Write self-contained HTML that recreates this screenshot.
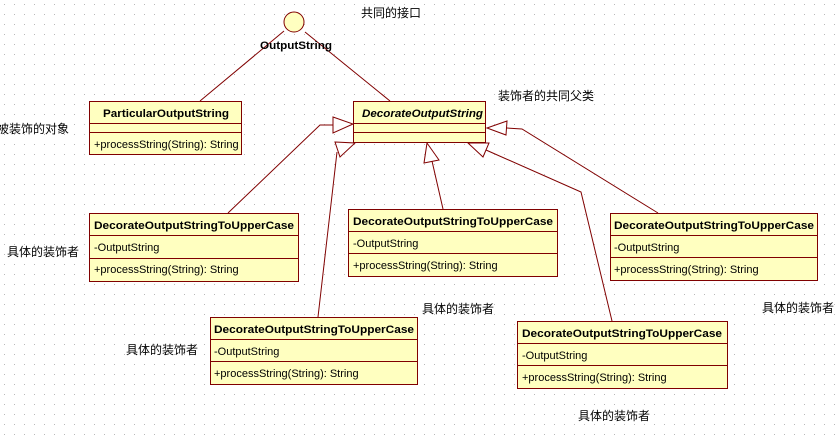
<!DOCTYPE html>
<html><head><meta charset="utf-8"><style>
html,body{margin:0;padding:0;background:#fff;}
svg{display:block;}
text{font-family:"Liberation Sans","Noto Sans CJK SC",sans-serif;font-size:11px;fill:#000;}
.b{font-weight:bold;}
.cj{font-size:12px;}
</style></head><body>
<svg width="837" height="438" xmlns="http://www.w3.org/2000/svg">
<defs><pattern id="g" width="10" height="10" patternUnits="userSpaceOnUse"><rect x="4" y="4" width="1" height="1" fill="#b8b8b8"/></pattern></defs>
<rect width="837" height="438" fill="url(#g)"/>
<g stroke="#800000" stroke-width="1" fill="none">
<line x1="284" y1="31" x2="200" y2="101"/>
<line x1="305" y1="32" x2="390" y2="101"/>
<polyline points="228,213 320,125 333,125"/>
<polygon points="333,117 353,124 333,133" fill="#fff"/>
<line x1="337" y1="152" x2="318" y2="317"/>
<polygon points="335,142 355,143 340,157" fill="#fff"/>
<line x1="432" y1="161" x2="443" y2="209"/>
<polygon points="427,143 424,163 439,160" fill="#fff"/>
<polyline points="486,150 581,192 612,321"/>
<polygon points="468,143 489,143 483,157" fill="#fff"/>
<polyline points="507,128 522,129 658,213"/>
<polygon points="487,128 507,121 506,135" fill="#fff"/>
</g>
<circle cx="294" cy="22" r="10" fill="#ffffc0" stroke="#800000"/>
<text x="260" y="49" class="b" textLength="72" lengthAdjust="spacingAndGlyphs">OutputString</text>
<text x="361" y="17" class="cj">共同的接口</text>
<text x="498" y="100" class="cj">装饰者的共同父类</text>
<text x="-3" y="133" class="cj">被装饰的对象</text>
<text x="7" y="256" class="cj">具体的装饰者</text>
<text x="422" y="313" class="cj">具体的装饰者</text>
<text x="762" y="312" class="cj">具体的装饰者</text>
<text x="126" y="354" class="cj">具体的装饰者</text>
<text x="578" y="420" class="cj">具体的装饰者</text>
<g stroke="#800000" fill="#ffffc0">
<rect x="89.5" y="101.5" width="152" height="53"/>
<line x1="89" y1="123.5" x2="242" y2="123.5"/><line x1="89" y1="132.5" x2="242" y2="132.5"/>
<rect x="353.5" y="101.5" width="132" height="41"/>
<line x1="353" y1="123.5" x2="486" y2="123.5"/><line x1="353" y1="132.5" x2="486" y2="132.5"/>
<rect x="89.5" y="213.5" width="209" height="68"/>
<line x1="89" y1="235.5" x2="299" y2="235.5"/><line x1="89" y1="258.5" x2="299" y2="258.5"/>
<rect x="348.5" y="209.5" width="209" height="67"/>
<line x1="348" y1="231.5" x2="558" y2="231.5"/><line x1="348" y1="253.5" x2="558" y2="253.5"/>
<rect x="610.5" y="213.5" width="207" height="67"/>
<line x1="610" y1="235.5" x2="818" y2="235.5"/><line x1="610" y1="257.5" x2="818" y2="257.5"/>
<rect x="210.5" y="317.5" width="207" height="67"/>
<line x1="210" y1="339.5" x2="418" y2="339.5"/><line x1="210" y1="361.5" x2="418" y2="361.5"/>
<rect x="517.5" y="321.5" width="210" height="67"/>
<line x1="517" y1="343.5" x2="728" y2="343.5"/><line x1="517" y1="365.5" x2="728" y2="365.5"/>
</g>
<text x="103" y="117" class="b" textLength="126" lengthAdjust="spacingAndGlyphs">ParticularOutputString</text>
<text x="94" y="148">+processString(String): String</text>
<text x="362" y="117" class="b" font-style="italic" textLength="121" lengthAdjust="spacingAndGlyphs">DecorateOutputString</text>
<g>
<text x="94" y="229" class="b" textLength="200" lengthAdjust="spacingAndGlyphs">DecorateOutputStringToUpperCase</text>
<text x="94" y="251">-OutputString</text>
<text x="94" y="273">+processString(String): String</text>
<text x="353" y="225" class="b" textLength="200" lengthAdjust="spacingAndGlyphs">DecorateOutputStringToUpperCase</text>
<text x="353" y="247">-OutputString</text>
<text x="353" y="269">+processString(String): String</text>
<text x="614" y="229" class="b" textLength="200" lengthAdjust="spacingAndGlyphs">DecorateOutputStringToUpperCase</text>
<text x="614" y="251">-OutputString</text>
<text x="614" y="273">+processString(String): String</text>
<text x="214" y="333" class="b" textLength="200" lengthAdjust="spacingAndGlyphs">DecorateOutputStringToUpperCase</text>
<text x="214" y="355">-OutputString</text>
<text x="214" y="377">+processString(String): String</text>
<text x="522" y="337" class="b" textLength="200" lengthAdjust="spacingAndGlyphs">DecorateOutputStringToUpperCase</text>
<text x="522" y="359">-OutputString</text>
<text x="522" y="381">+processString(String): String</text>
</g>
</svg>
</body></html>
